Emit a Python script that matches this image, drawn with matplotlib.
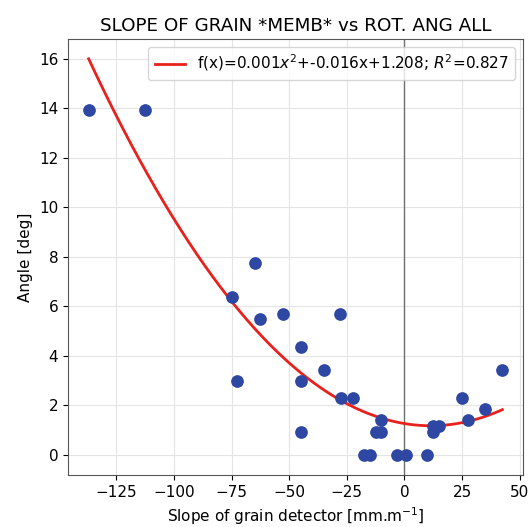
import numpy as np
import matplotlib
matplotlib.use("Agg")
import matplotlib.pyplot as plt

# slope of grain detector [mm/m] and rotation angle [deg]
slope = [-137, -112.5, -75, -65, -72.5, -62.5, -52.5, -45, -45, -45,
         -35, -28, -27.5, -22.5, -17.5, -15, -12.5, -10, -10, -3,
         0.5, 10, 12.5, 12.5, 15, 25, 27.5, 35, 42.5]
angle = [13.95, 13.95, 6.4, 7.75, 3.0, 5.5, 5.7, 4.35, 3.0, 0.94,
         3.44, 5.7, 2.3, 2.3, 0.0, 0.0, 0.94, 0.94, 1.41, 0.0,
         0.0, 0.0, 0.94, 1.16, 1.16, 2.3, 1.41, 1.85, 3.44]
fit_label = r"f(x)=0.001$x^2$+-0.016x+1.208; $R^2$=0.827"

slope = np.array(slope)
angle = np.array(angle)
coef = np.polyfit(slope, angle, 2)
xx = np.linspace(slope.min(), slope.max(), 200)

plt.rcParams['font.size'] = 11
fig = plt.figure(figsize=(5.31, 5.27), dpi=100)
ax = fig.add_axes([0.128, 0.099, 0.857, 0.827])
ax.grid(True, color='#e4e4e4', lw=0.8)
ax.set_axisbelow(True)
for sp in ax.spines.values():
    sp.set_color('#555555')
ax.axvline(0, color='#707070', lw=1)
ax.plot(xx, np.polyval(coef, xx), color='#e8211d', lw=2, label=fit_label)
ax.scatter(slope, angle, s=66, color='#2e47a3', zorder=3)
ax.set_title("SLOPE OF GRAIN *MEMB* vs ROT. ANG ALL")
ax.set_xlabel(r"Slope of grain detector [mm.m$^{-1}$]")
ax.set_ylabel("Angle [deg]")
ax.legend(loc='upper right')
fig.savefig("out.png", dpi=100)
